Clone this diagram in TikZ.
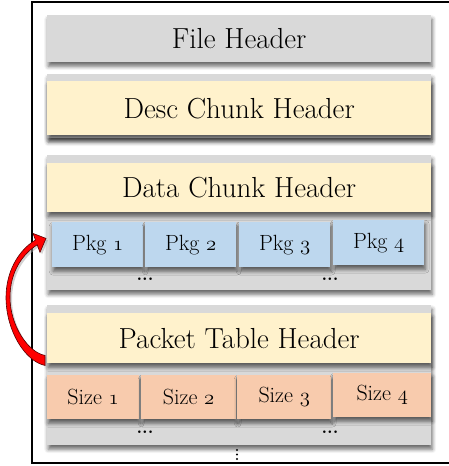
\documentclass[tikz,border=0pt]{standalone}
\usetikzlibrary{positioning, calc, shadows.blur}

\definecolor{boxgray}{HTML}{D9D9D9}
\definecolor{hdryellow}{HTML}{FFF2CC}
\definecolor{pkgblue}{HTML}{BDD7EE}
\definecolor{sizesalmon}{HTML}{F8CBAD}
\definecolor{arrowdark}{HTML}{5A0000}

% old style figures from the math italic font
\newcommand{\osn}[1]{{\fontencoding{OML}\fontfamily{cmm}\fontseries{m}\fontshape{it}\selectfont #1}}

\begin{document}
\begin{tikzpicture}[x=1pt, y=-1pt,
    shade/.style={blur shadow={shadow xshift=1pt, shadow yshift=-4pt,
        shadow blur radius=4pt, shadow opacity=60}},
    groupbox/.style={shade, anchor=north west, inner sep=0pt, fill=boxgray,
        minimum width=384pt},
    hdrbox/.style={shade, anchor=north west, inner sep=0pt, fill=hdryellow,
        minimum width=384pt, font=\fontsize{29}{30}\selectfont},
    pkgbox/.style={shade, anchor=north west, inner sep=0pt, fill=pkgblue,
        minimum height=45pt, font=\fontsize{22}{23}\selectfont},
    sizebox/.style={shade, anchor=north west, inner sep=0pt, fill=sizesalmon,
        minimum height=44pt, font=\fontsize{22}{23}\selectfont},
    dotlabel/.style={inner sep=0pt, font=\fontsize{18}{18}\bfseries}]

    \useasboundingbox (0,0) rectangle (448,466);

    % outer frame of the file
    \draw[line width=1.6pt] (32,2) rectangle (470,463);

    % file header
    \node[groupbox, minimum height=47pt, font=\fontsize{29}{30}\selectfont]
        (file) at (47,15) {File Header};

    % desc chunk
    \node[groupbox, minimum height=64pt] (desc) at (47,74) {};
    \node[hdrbox, minimum height=54pt] (deschdr) at (47,81) {Desc Chunk Header};

    % data chunk with its packages
    \node[groupbox, minimum height=135pt] (data) at (47,155) {};
    \node[hdrbox, minimum height=49pt] (datahdr) at (47,163) {Data Chunk Header};
    \foreach \i/\x/\y in {1/52/222, 2/145/222, 3/239/222, 4/333/220}
        \node[pkgbox, minimum width=91pt] (pkg\i) at (\x,\y) {Pkg \osn{\i}};
    \node[dotlabel] (pdots1) at (145,279) {...};
    \node[dotlabel] (pdots2) at (330,279) {...};

    % packet table with the sizes
    \node[groupbox, minimum height=140pt] (pkttab) at (47,305) {};
    \node[hdrbox, minimum height=50pt] (pkt) at (47,313) {Packet Table Header};
    \foreach \i/\x/\y/\w in {1/47/375/92, 2/141/375/95, 3/237/375/94, 4/333/373/98}
        \node[sizebox, minimum width=\w pt] (size\i) at (\x,\y) {Size \osn{\i}};
    \node[dotlabel] (sdots1) at (145,432) {...};
    \node[dotlabel] (sdots2) at (330,432) {...};

    % more chunks follow
    \foreach \y in {450,454.5,459}
        \fill (237,\y) circle (1.2pt);

    % curved arrow from the packet table back to the packages
    \begin{scope}[shift={(pkt.south west)}]
        \fill[black!35, opacity=0.5] (0,3) .. controls (-20,0) and (-39,-31) .. (-39,-64)
            .. controls (-39,-89) and (-27,-111) .. (-9.5,-121.4) -- (-12,-128)
            -- (1,-123) -- (-5,-109) -- (-7.8,-116.6)
            .. controls (-23,-107) and (-35,-89) .. (-35,-64)
            .. controls (-35,-36) and (-17,-9) .. (0,-6) -- cycle;
        \filldraw[fill=red, draw=arrowdark, line width=0.6pt]
            (-2,2) .. controls (-22,-2) and (-41,-33) .. (-41,-66)
            .. controls (-41,-91) and (-29,-113) .. (-11.5,-123.4) -- (-14,-130)
            -- (-1,-125) -- (-7,-111) -- (-9.8,-118.6)
            .. controls (-25,-109) and (-37,-91) .. (-37,-66)
            .. controls (-37,-38) and (-19,-11) .. (-2,-8) -- cycle;
    \end{scope}
\end{tikzpicture}
\end{document}
